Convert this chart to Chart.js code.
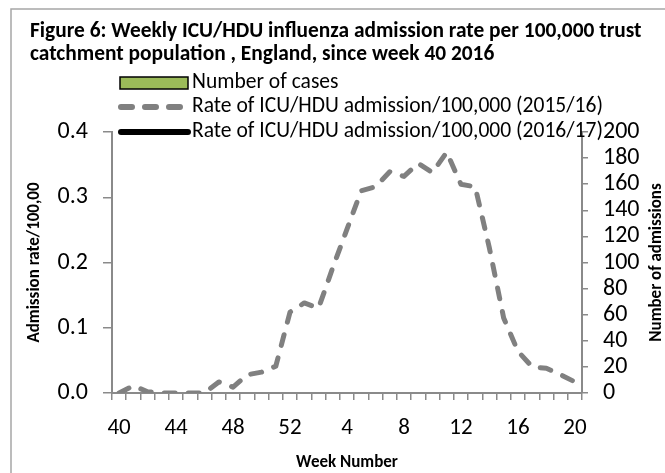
<!DOCTYPE html>
<html>
<head>
<meta charset="utf-8">
<script src="https://cdn.jsdelivr.net/npm/chart.js@4"></script>
<style>
  html, body { margin: 0; padding: 0; background: #fff; }
  #wrap { width: 665px; height: 473px; }
</style>
</head>
<body>
<div id="wrap"><canvas id="icuChart" width="665" height="473"></canvas></div>
<script>
  // Week numbers, week 40 2016 to week 20 2017
  const weeks = [40, 41, 42, 43, 44, 45, 46, 47, 48, 49, 50, 51, 52,
    1, 2, 3, 4, 5, 6, 7, 8, 9, 10, 11, 12, 13, 14, 15, 16, 17, 18, 19, 20];

  // Rate of ICU/HDU admission per 100,000 (2015/16 season)
  const rate2015 = [0.000, 0.011, 0.002, 0.000, 0.000, 0.000, 0.000, 0.017, 0.009, 0.028, 0.032, 0.041, 0.124,
    0.138, 0.130, 0.192, 0.251, 0.310, 0.316, 0.339, 0.332, 0.352, 0.338, 0.369, 0.320, 0.316, 0.222,
    0.115, 0.064, 0.040, 0.038, 0.028, 0.017];

  // 2016/17 season: nothing reported yet
  const cases2016 = [];
  const rate2016 = [];

  const leftTicks = [0, 0.1, 0.2, 0.3, 0.4];
  const rightTicks = [0, 20, 40, 60, 80, 100, 120, 140, 160, 180, 200];

  const FONT = 'Carlito, Lato, sans-serif';
  const AXIS_GREY = '#8a8a8a';

  // pick a font size so a string fills a given width
  function fitFont(ctx, text, weight, width) {
    ctx.font = weight + ' 20px ' + FONT;
    const w = ctx.measureText(text).width;
    return weight + ' ' + (20 * width / w).toFixed(2) + 'px ' + FONT;
  }

  // Frame, title, legend and right axis title
  const decorPlugin = {
    id: 'decor',
    beforeDraw(chart) {
      const ctx = chart.ctx;
      ctx.save();
      ctx.fillStyle = '#fff';
      ctx.fillRect(0, 0, chart.width, chart.height);
      ctx.strokeStyle = '#a6a6a6';
      ctx.lineWidth = 1.5;
      ctx.strokeRect(11, 9, 700, 500);
      ctx.restore();
    },
    afterDraw(chart) {
      const ctx = chart.ctx;
      ctx.save();
      ctx.fillStyle = '#000';
      ctx.textBaseline = 'middle';
      ctx.textAlign = 'left';

      const t1 = 'Figure 6: Weekly ICU/HDU influenza admission rate per 100,000 trust';
      const t2 = 'catchment population , England, since week 40 2016';
      ctx.font = fitFont(ctx, t1, 'bold', 612);
      ctx.fillText(t1, 30, 32);
      ctx.fillText(t2, 30, 55);

      // legend, one row per dataset
      const ds = chart.data.datasets;
      const rowsY = [83, 107, 132];
      ctx.font = fitFont(ctx, ds[1].label, 'normal', 411);
      ds.forEach((d, i) => {
        const y = rowsY[i];
        if (d.type === 'bar' || !d.type) {
          ctx.fillStyle = d.backgroundColor;
          ctx.fillRect(120, y - 6, 68, 12);
          ctx.strokeStyle = d.borderColor;
          ctx.lineWidth = 1.5;
          ctx.strokeRect(120, y - 6, 68, 12);
        } else {
          const dashed = d.borderDash && d.borderDash.length;
          ctx.strokeStyle = d.borderColor;
          ctx.lineWidth = 6;
          ctx.lineCap = 'round';
          ctx.setLineDash(dashed ? [11, 13] : []);
          ctx.beginPath();
          ctx.moveTo(121, y);
          ctx.lineTo(dashed ? 180 : 188, y);
          ctx.stroke();
          ctx.setLineDash([]);
        }
        ctx.fillStyle = '#000';
        ctx.fillText(d.label, 192, y);
      });

      // right axis title reads bottom to top, like the left one
      ctx.font = 'bold 17px ' + FONT;
      ctx.translate(657, (chart.chartArea.top + chart.chartArea.bottom) / 2);
      ctx.rotate(-Math.PI / 2);
      ctx.textAlign = 'center';
      ctx.fillText('Number of admissions', 0, 0);
      ctx.restore();
    }
  };

  new Chart(document.getElementById('icuChart'), {
    type: 'bar',
    data: {
      labels: weeks,
      datasets: [
        {
          type: 'bar',
          label: 'Number of cases',
          data: cases2016,
          yAxisID: 'y1',
          backgroundColor: '#9bbb59',
          borderColor: '#000',
          borderWidth: 1
        },
        {
          type: 'line',
          label: 'Rate of ICU/HDU admission/100,000 (2015/16)',
          data: rate2015,
          yAxisID: 'y',
          borderColor: '#808080',
          borderWidth: 5,
          borderDash: [11, 13],
          borderCapStyle: 'round',
          borderJoinStyle: 'round',
          pointRadius: 0,
          tension: 0
        },
        {
          type: 'line',
          label: 'Rate of ICU/HDU admission/100,000 (2016/17)',
          data: rate2016,
          yAxisID: 'y',
          borderColor: '#000',
          borderWidth: 5,
          pointRadius: 0,
          tension: 0
        }
      ]
    },
    options: {
      responsive: false,
      animation: false,
      layout: { padding: { top: 132, left: 0, right: 0, bottom: 0 } },
      plugins: {
        legend: { display: false },
        tooltip: { enabled: false }
      },
      scales: {
        x: {
          offset: true,
          afterFit(scale) { scale.height = 80; },
          grid: { display: true, drawOnChartArea: false, offset: true, tickLength: 7, color: AXIS_GREY, lineWidth: 1.5 },
          border: { display: true, color: AXIS_GREY, width: 2 },
          ticks: {
            autoSkip: false,
            maxRotation: 0,
            padding: 14,
            color: '#000',
            font: { family: FONT, size: 23 },
            callback: (v, i) => (i % 4 === 0 ? String(weeks[i]) : '')
          },
          title: {
            display: true,
            text: 'Week Number',
            color: '#000',
            font: { family: FONT, size: 17, weight: 'bold' },
            padding: { top: 0, bottom: 0 }
          }
        },
        y: {
          position: 'left',
          min: leftTicks[0],
          max: leftTicks[leftTicks.length - 1],
          afterFit(scale) { scale.width = 112; },
          afterBuildTicks(scale) { scale.ticks = leftTicks.map(v => ({ value: v })); },
          grid: { display: true, drawOnChartArea: false, tickLength: 9, color: AXIS_GREY, lineWidth: 1.5 },
          border: { display: true, color: AXIS_GREY, width: 2 },
          ticks: {
            autoSkip: false,
            padding: 15,
            color: '#000',
            font: { family: FONT, size: 24 },
            callback: v => v.toFixed(1)
          },
          title: {
            display: true,
            text: 'Admission rate/100,00',
            color: '#000',
            font: { family: FONT, size: 17, weight: 'bold' },
            padding: { top: 25, bottom: 0 }
          }
        },
        y1: {
          position: 'right',
          min: rightTicks[0],
          max: rightTicks[rightTicks.length - 1],
          afterFit(scale) { scale.width = 83; },
          afterBuildTicks(scale) { scale.ticks = rightTicks.map(v => ({ value: v })); },
          grid: { display: true, drawOnChartArea: false, tickLength: 6, color: AXIS_GREY, lineWidth: 1.5 },
          border: { display: true, color: AXIS_GREY, width: 2 },
          ticks: {
            autoSkip: false,
            padding: 15,
            color: '#000',
            font: { family: FONT, size: 24 }
          }
        }
      }
    },
    plugins: [decorPlugin]
  });
</script>
</body>
</html>
